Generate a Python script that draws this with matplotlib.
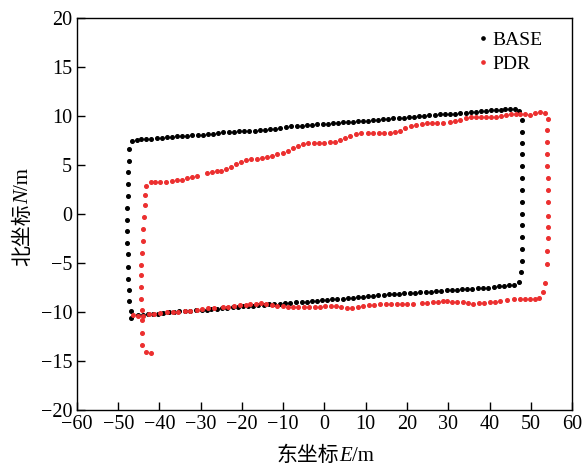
import matplotlib.pyplot as plt

# Fonts: Times-like serif for numbers, CJK fallback for the Chinese labels
plt.rcParams['font.family'] = ['Liberation Serif', 'Noto Sans CJK SC']
plt.rcParams['axes.unicode_minus'] = True

# BASE track: left edge, bottom, right edge, top
base_x = [-46.7, -47.3, -47.5, -47.6, -47.6, -47.7, -47.8, -47.8, -47.8, -47.8, -47.7, -47.6, -47.6, -47.5, -47.3, -46.8, -46.8,
          -45.2, -43.9, -42.7, -41.5, -40.3, -39.1, -37.6, -36.5, -35.2, -33.8, -32.5, -31.2, -29.8, -28.6, -27.4, -26.1,
          -24.8, -23.6, -22.3, -21.0, -19.8, -18.5, -17.3, -16.0, -14.7, -13.4, -12.2, -10.8, -9.5, -8.3, -7.0, -5.5, -4.3,
          -3.1, -1.9, -0.7, 0.5, 1.7, 3.1, 4.4, 5.6, 6.8, 8.0, 9.4, 10.6, 11.8, 13.0, 14.4, 15.7, 16.9, 18.1, 19.3, 20.7,
          21.9, 23.2, 24.5, 25.7, 27.0, 28.2, 29.6, 30.8, 32.0, 33.4, 34.6, 35.8, 37.1, 38.5, 39.7, 41.1, 42.4, 43.6, 44.8,
          46.0, 47.2,
          47.6, 47.9, 47.9, 47.9, 47.9, 47.9, 47.9, 47.9, 47.9, 47.8, 47.8, 47.8, 47.8, 47.8,
          47.2, 46.2, 45.0, 43.8, 42.7, 41.5, 40.3, 39.1, 37.9, 36.7, 35.4, 34.2, 32.8, 31.6, 30.4, 29.2, 28.0, 26.8, 25.4,
          24.2, 23.0, 21.8, 20.5, 19.3, 18.1, 16.7, 15.5, 14.3, 13.0, 11.8, 10.6, 9.4, 8.2, 7.0, 5.8, 4.6, 3.3, 2.0, 0.8,
          -0.4, -1.7, -3.0, -4.2, -5.5, -6.7, -8.1, -9.4, -10.7, -12.0, -13.2, -14.4, -15.6, -16.9, -18.2, -19.4, -20.7,
          -21.9, -23.2, -24.5, -25.7, -27.0, -28.2, -29.5, -30.7, -32.0, -33.3, -34.5, -35.8, -37.0, -38.3, -39.5, -40.7,
          -42.0, -43.2, -44.4, -45.5]
base_y = [7.42, 6.6, 5.44, 4.29, 3.06, 1.84, 0.64, -0.58, -1.73, -2.96, -4.11, -5.41, -6.6, -7.79, -8.88, -9.87, -10.6,
          -10.35, -10.27, -10.24, -10.2, -10.17, -10.07, -10.03, -9.97, -9.93, -9.86, -9.86, -9.8, -9.8, -9.76, -9.69, -9.66,
          -9.63, -9.63, -9.52, -9.46, -9.42, -9.39, -9.35, -9.29, -9.25, -9.22, -9.18, -9.15, -9.12, -9.05, -9.01, -9.01, -8.95,
          -8.88, -8.84, -8.78, -8.74, -8.71, -8.67, -8.64, -8.61, -8.54, -8.5, -8.44, -8.37, -8.33, -8.27, -8.23, -8.2, -8.16,
          -8.13, -8.1, -8.06, -8.03, -7.99, -7.96, -7.93, -7.86, -7.82, -7.79, -7.76, -7.72, -7.69, -7.65, -7.62, -7.59, -7.55,
          -7.52, -7.42, -7.35, -7.32, -7.24, -7.21, -6.9,
          -5.95, -4.8, -3.57, -2.38, -1.16, 0.03, 1.26, 2.45, 3.64, 4.87, 6.09, 7.28, 8.4, 9.59,
          10.51, 10.68, 10.68, 10.68, 10.65, 10.61, 10.61, 10.54, 10.48, 10.41, 10.41, 10.34, 10.27, 10.23, 10.2, 10.17, 10.17,
          10.1, 10.07, 10.03, 9.97, 9.93, 9.87, 9.83, 9.8, 9.76, 9.69, 9.66, 9.63, 9.56, 9.52, 9.49, 9.45, 9.42, 9.35, 9.35,
          9.32, 9.28, 9.21, 9.18, 9.15, 9.11, 9.05, 9.01, 8.98, 8.95, 8.84, 8.78, 8.67, 8.64, 8.6, 8.54, 8.5, 8.47, 8.43, 8.43,
          8.4, 8.37, 8.33, 8.23, 8.19, 8.13, 8.1, 8.06, 8.03, 7.99, 7.96, 7.96, 7.89, 7.82, 7.79, 7.76, 7.65, 7.65, 7.62, 7.59]

# PDR track: left edge, bottom, right edge, top
pdr_x = [-43.2, -43.5, -43.6, -43.7, -43.9, -44.1, -44.2, -44.5, -44.5, -44.4, -44.4, -44.3, -44.2, -44.2, -44.2, -43.3, -42.1,
         -46.35, -45.1, -44.1, -42.6, -41.3, -39.9, -38.3, -36.8, -35.4, -33.8, -32.6, -31.0, -29.8, -28.2, -26.8, -24.7,
         -23.3, -21.9, -20.5, -19.0, -18.1, -16.7, -15.5, -14.2, -12.8, -11.6, -10.0, -8.9, -7.7, -6.4, -5.0, -3.7, -2.3,
         -1.1, 0.2, 1.5, 2.7, 4.0, 5.4, 6.6, 8.0, 9.4, 10.8, 12.0, 13.5, 14.9, 16.0, 17.5, 18.7, 20.1, 21.4, 23.6, 24.9,
         26.2, 27.4, 28.7, 29.6, 30.8, 32.2, 33.5, 34.7, 36.1, 37.5, 38.7, 40.1, 41.3, 42.5, 44.2, 46.0, 47.4, 48.6, 49.8,
         51.0, 52.1, 53.0, 53.5,
         53.9, 54.0, 54.1, 54.2, 54.3, 54.2, 54.2, 54.1, 54.0, 53.9, 53.9, 54.0, 54.1,
         53.5, 52.2, 51.0, 49.8, 48.6, 47.4, 46.4, 45.1, 43.9, 42.7, 41.5, 40.3, 39.1, 37.9, 36.7, 35.4, 34.2, 32.8, 31.6,
         30.4, 28.7, 27.3, 26.1, 24.8, 23.6, 22.1, 20.9, 19.5, 18.3, 17.1, 15.9, 14.5, 13.2, 11.8, 10.6, 8.8, 7.6, 6.2, 5.0,
         3.8, 2.5, 1.3, 0.0, -1.3, -2.5, -3.9, -5.1, -6.4, -7.6, -8.8, -10.1, -11.4, -12.7, -13.9, -15.2, -16.4, -17.8,
         -19.1, -20.3, -21.5, -22.7, -23.9, -25.1, -26.1, -27.3, -28.6, -30.8, -32.0, -33.3, -34.5, -35.8, -37.0, -38.5,
         -39.8, -41.0, -42.1]
pdr_y = [2.9, 1.97, 0.88, -0.27, -1.53, -2.76, -3.98, -5.24, -6.22, -7.45, -8.64, -9.76, -10.8, -12.1, -13.4, -14.1, -14.2,
         -10.31, -10.41, -10.41, -10.24, -10.24, -10.14, -10.03, -10.03, -9.97, -9.86, -9.86, -9.8, -9.73, -9.63, -9.63,
         -9.52, -9.52, -9.39, -9.32, -9.29, -9.22, -9.18, -9.12, -9.18, -9.29, -9.35, -9.39, -9.49, -9.52, -9.52, -9.52,
         -9.49, -9.49, -9.46, -9.39, -9.35, -9.39, -9.46, -9.56, -9.56, -9.46, -9.35, -9.29, -9.25, -9.22, -9.18, -9.18,
         -9.22, -9.22, -9.22, -9.15, -9.12, -9.05, -9.01, -8.98, -8.88, -8.84, -8.95, -9.01, -9.01, -9.05, -9.15, -9.12,
         -9.08, -9.01, -8.95, -8.84, -8.78, -8.71, -8.71, -8.71, -8.67, -8.67, -8.54, -7.96, -7.04,
         -5.1, -3.74, -2.48, -1.33, -0.2, 1.22, 2.45, 3.64, 4.87, 6.09, 7.31, 8.54, 9.69,
         10.34, 10.38, 10.27, 10.13, 10.23, 10.2, 10.2, 10.17, 10.1, 9.97, 9.87, 9.87, 9.87, 9.93, 9.9, 9.9, 9.83, 9.59,
         9.49, 9.39, 9.25, 9.25, 9.25, 9.25, 9.21, 9.11, 8.98, 8.74, 8.5, 8.33, 8.23, 8.23, 8.23, 8.23, 8.23, 8.23, 8.13,
         7.96, 7.72, 7.55, 7.38, 7.31, 7.28, 7.24, 7.24, 7.21, 7.17, 6.94, 6.7, 6.46, 6.26, 6.09, 5.92, 5.82, 5.75, 5.65,
         5.58, 5.48, 5.31, 5.07, 4.83, 4.59, 4.42, 4.42, 4.32, 4.21, 3.91, 3.74, 3.64, 3.5, 3.44, 3.4, 3.3, 3.3, 3.3, 3.3]

# axis label pieces: (text, style)
xlabel_parts = [('东坐标', 'normal'), ('E', 'italic'), ('/m', 'normal')]
ylabel_parts = [('北坐标', 'normal'), ('N', 'italic'), ('/m', 'normal')]

fig = plt.figure(figsize=(5.85, 4.66), dpi=100)
ax = fig.add_axes([0.1316, 0.1202, 0.8462, 0.8412])

ax.plot(base_x, base_y, linestyle='none', marker='o', markersize=2.6, color='black', label='BASE')
ax.plot(pdr_x, pdr_y, linestyle='none', marker='o', markersize=2.6, color='#ec2f2f', label='PDR')

ax.set_xlim(-60, 60)
ax.set_ylim(-20, 20)
ax.set_xticks(range(-60, 61, 10))
ax.set_yticks(range(-20, 21, 5))
ax.tick_params(direction='in', length=6, labelsize=14.5, width=1)
for s in ax.spines.values():
    s.set_linewidth(1)

ax.legend(loc='upper right', bbox_to_anchor=(0.968, 1.0), frameon=False, fontsize=14,
          handlelength=0.5, handletextpad=0.25, labelspacing=0.3, borderaxespad=0.3, markerscale=0.9)


# mixed-font labels (CJK + italic serif letter) drawn piece by piece
def draw_label(parts, cx, cy, vertical=False, size=15):
    renderer = fig.canvas.get_renderer()
    W, H = fig.bbox.width, fig.bbox.height
    texts, widths = [], []
    for s, style in parts:
        t = fig.text(0, 0, s, fontsize=size, style=style, ha='left', va='baseline')
        widths.append(t.get_window_extent(renderer).width)
        texts.append(t)
    total = sum(widths)
    pos = -total / 2
    for t, w in zip(texts, widths):
        if vertical:
            t.set_rotation(90)
            t.set_rotation_mode('anchor')
            t.set_position((cx / W, (cy + pos) / H))
        else:
            t.set_position(((cx + pos) / W, cy / H))
        pos += w


draw_label(xlabel_parts, 325, 466 - 461)
draw_label(ylabel_parts, 28, 466 - 217, vertical=True)

plt.savefig('out.png', dpi=100)
